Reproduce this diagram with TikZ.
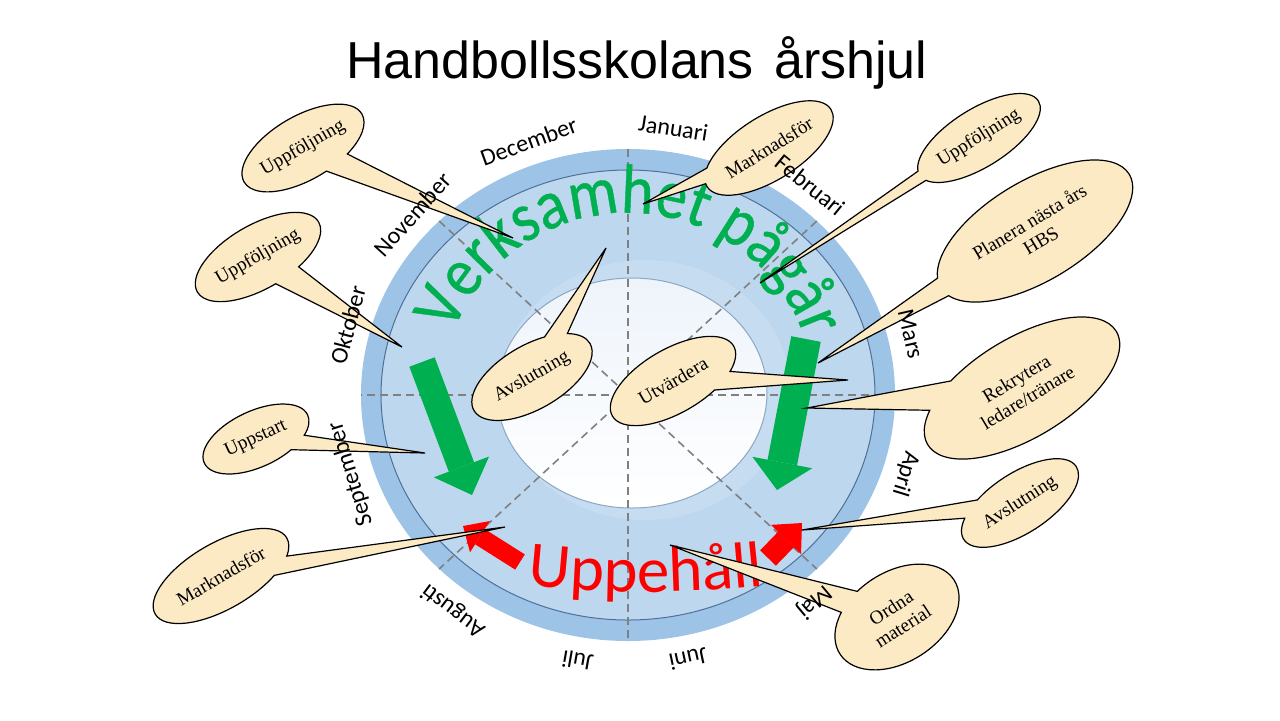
\documentclass[tikz,border=0pt]{standalone}
\usepackage{fontspec}
\setmainfont{Liberation Serif}
\newfontfamily\titlefont{Liberation Sans}
\newfontfamily\calfont{Carlito}
\newfontfamily\archfont[FakeStretch=0.88, FakeBold=0.6]{Carlito}
\usetikzlibrary{shapes.callouts, decorations.text, arrows.meta}
\definecolor{bandDark}{HTML}{9DC3E6}
\definecolor{bandLight}{HTML}{BDD7EE}
\definecolor{glowBlue}{HTML}{C6DCF1}
\definecolor{ringLine}{HTML}{4F7098}
\definecolor{innerLine}{HTML}{8CA7C3}
\definecolor{innerTop}{HTML}{EEF4FB}
\definecolor{bubbleFill}{HTML}{FCEAC4}
\definecolor{activeGreen}{HTML}{00B050}
\definecolor{pauseRed}{HTML}{FF0000}

\begin{document}
\begin{tikzpicture}[x=0.5pt, y=0.5pt,
    bubble/.style={ellipse callout, draw=black, fill=bubbleFill, line width=0.6pt,
        inner sep=0pt, callout pointer arc=24, align=center,
        font=\fontsize{9.6}{11}\selectfont},
    month/.style={font=\calfont\fontsize{12}{14}\selectfont},
    divider/.style={draw=black!50, line width=0.8pt, dash pattern=on 4pt off 2.5pt},
    bigarrow/.style n args={4}{color=#1, line width=#2, line cap=butt,
        -{Triangle[length=#3, width=#4, line width=0pt]}}]
    \useasboundingbox (0,0) rectangle (1280,-720);
    \fill[white] (0,0) rectangle (1280,-720);
    \coordinate (C) at (628,-395);
    \fill[bandDark] (C) ellipse [x radius=267, y radius=246];
    \filldraw[fill=bandLight, draw=ringLine, line width=0.5pt] (C) ellipse [x radius=247, y radius=225];
    \fill[glowBlue] (645,-390) ellipse [x radius=145, y radius=130];
    \draw[draw=innerLine, line width=0.5pt, top color=innerTop, bottom color=white]
        (632,-393) ellipse [x radius=135, y radius=115];
    \foreach \a in {0,45,90,135}
        \draw[divider] ([shift={(\a:267 and 246)}]C) -- ([shift={(\a+180:267 and 246)}]C);

    \path[decorate, decoration={text along path, text align=center, text color=activeGreen,
        text={|\archfont\fontsize{35}{40}\selectfont|Verksamhet pågår}}]
        ([shift={(176:186 and 182)}]C) arc[start angle=176, end angle=2, x radius=186, y radius=182];
    \path[decorate, decoration={text along path, text align=center, text color=pauseRed,
        text={|\calfont\fontsize{32.5}{38}\selectfont|Uppehåll}}]
        ([shift={(262:1100)}]646,508) arc[start angle=262, end angle=278, radius=1100];

    \coordinate (gL) at (422,-362);
    \coordinate (gLtip) at (472,-495);
    \coordinate (gR) at (806,-339);
    \coordinate (gRtip) at (777,-490);
    \coordinate (rL) at (520,-562);
    \coordinate (rLtip) at (463,-526);
    \coordinate (rR) at (768,-558);
    \coordinate (rRtip) at (802,-523);
    \draw[bigarrow={activeGreen}{13.5pt}{15pt}{29.5pt}] (gL) -- (gLtip);
    \draw[bigarrow={activeGreen}{15pt}{14pt}{30.5pt}] (gR) -- (gRtip);
    \draw[bigarrow={pauseRed}{9pt}{10pt}{18.5pt}] (rL) -- (rLtip);
    \draw[bigarrow={pauseRed}{11pt}{11.5pt}{21pt}] (rR) -- (rRtip);

    \coordinate (pFollowNW) at (513,-238);
    \coordinate (pFollowW) at (402,-347);
    \coordinate (pStart) at (425,-453);
    \coordinate (pMarketSW) at (505,-527);
    \coordinate (pEndMid) at (606,-248);
    \coordinate (pEval) at (848,-380);
    \coordinate (pMarketN) at (643,-204);
    \coordinate (pFollowNE) at (760,-283);
    \coordinate (pPlan) at (818,-363);
    \coordinate (pRecruit) at (807,-408);
    \coordinate (pEndE) at (802,-530);
    \coordinate (pGear) at (670,-545);
    \node[bubble, callout absolute pointer=(pFollowNW), rotate=30, minimum width=68pt, minimum height=32pt]
        (followNW) at (303,-148) {Uppföljning};
    \node[bubble, callout absolute pointer=(pFollowW), rotate=30, minimum width=70pt, minimum height=32pt]
        (followW) at (258,-257) {Uppföljning};
    \node[bubble, callout absolute pointer=(pStart), rotate=25, minimum width=57pt, minimum height=28pt]
        (start) at (256,-439) {Uppstart};
    \node[bubble, callout absolute pointer=(pMarketSW), rotate=30, minimum width=76pt, minimum height=33pt]
        (marketSW) at (221,-576) {Marknadsför};
    \node[bubble, callout absolute pointer=(pEndMid), rotate=30, minimum width=67pt, minimum height=32pt]
        (endMid) at (532,-377) {Avslutning};
    \node[bubble, callout absolute pointer=(pEval), rotate=30, minimum width=70pt, minimum height=32pt]
        (eval) at (673,-381) {Utvärdera};
    \node[bubble, callout absolute pointer=(pMarketN), rotate=32, minimum width=73pt, minimum height=32pt]
        (marketN) at (769,-148) {Marknadsför};
    \node[bubble, callout absolute pointer=(pFollowNE), rotate=32, minimum width=70pt, minimum height=29pt]
        (followNE) at (979,-138) {Uppföljning};
    \node[bubble, callout absolute pointer=(pPlan), rotate=31, minimum width=110pt, minimum height=50pt]
        (plan) at (1035,-231) {Planera nästa års\\HBS};
    \node[bubble, callout absolute pointer=(pRecruit), rotate=31, minimum width=110pt, minimum height=50pt]
        (recruit) at (1022,-388) {Rekrytera\\ledare/tränare};
    \node[bubble, callout absolute pointer=(pEndE), rotate=33, minimum width=67pt, minimum height=30pt]
        (endE) at (1020,-503) {Avslutning};
    \node[bubble, callout absolute pointer=(pGear), rotate=33, minimum width=68pt, minimum height=45pt]
        (gear) at (897,-617) {Ordna\\material};

    \foreach \m/\t in {Januari/81, Februari/51, Mars/13, April/-17, Maj/-50, Juni/-78,
        Juli/-100, Augusti/-127, September/-163, Oktober/165, November/138, December/110}
        \node[month, rotate=\t-90] (m\m) at ([shift={(\t:290 and 270)}]C) {\m};

    \node[font=\titlefont\fontsize{26}{30}\selectfont, anchor=base] (title) at (637,-78)
        {Handbollsskolans\hspace{3pt} årshjul};
\end{tikzpicture}
\end{document}
